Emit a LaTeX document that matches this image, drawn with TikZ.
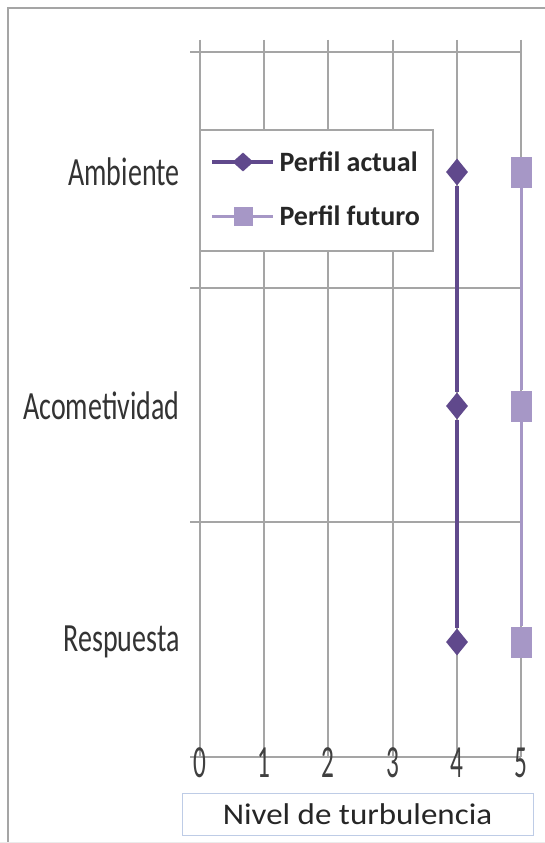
\documentclass[tikz,border=0pt]{standalone}
\usepackage{fontspec}
\setmainfont{Carlito}
\newfontfamily\narrowfont[FakeStretch=0.7]{Carlito}
\newfontfamily\digitfont[FakeStretch=0.55]{Carlito}
\newfontfamily\widefont[FakeStretch=1.1]{Carlito}
\usetikzlibrary{shapes.geometric}
\definecolor{actual}{RGB}{96,73,140}
\definecolor{futuro}{RGB}{166,151,198}
\definecolor{gridgray}{RGB}{165,165,165}
\definecolor{titleblue}{RGB}{190,204,230}
\tikzset{
  actualmark/.style={diamond, fill=actual, inner sep=0pt, minimum width=22pt, minimum height=27pt},
  futuromark/.style={rectangle, fill=futuro, inner sep=0pt, minimum width=21pt, minimum height=31pt},
  catlabel/.style={anchor=east, text=black!80, font=\narrowfont\fontsize{40}{40}\selectfont},
  ticklabel/.style={text=black!75, font=\digitfont\fontsize{46}{46}\selectfont},
  legendtext/.style={anchor=west, text=black!85, font=\bfseries\fontsize{28}{28}\selectfont}
}
\begin{document}
\begin{tikzpicture}[x=1pt,y=-1pt]

\useasboundingbox (0,0) rectangle (545,843);
\fill[white] (0,0) rectangle (545,843);

% chart frame
\draw[gridgray, line width=2pt] (8,850) -- (8,8) -- (560,8);
\draw[black!8, line width=1pt] (0,842) -- (545,842);

% grid
\foreach \x in {200,264,328,393,457,521} \draw[gridgray, line width=1.5pt] (\x,40) -- (\x,757);
\foreach \y in {52,288,522,757} \draw[gridgray, line width=1.5pt] (190,\y) -- (521,\y);

% legend
\draw[gridgray, fill=white, line width=1.5pt] (200,130) rectangle (433,251);
\coordinate (la1) at (212,162);
\coordinate (la2) at (273,162);
\coordinate (lf1) at (212,216);
\coordinate (lf2) at (273,216);
\draw[actual, line width=4pt] (la1) -- (la2);
\draw[futuro, line width=3pt] (lf1) -- (lf2);
\node[actualmark, minimum width=21pt, minimum height=19pt] (lam) at (243,162) {};
\node[futuromark, minimum width=19pt, minimum height=19pt] (lfm) at (243,216) {};
\node[legendtext] (lat) at (276,162) {Perfil actual};
\node[legendtext] (lft) at (276,216) {Perfil futuro};

% data
\foreach \n/\y in {amb/172, aco/406, res/642} {
  \node[actualmark] (a\n) at (457,\y) {};
  \node[futuromark] (f\n) at (521,\y) {};
}
\draw[actual, line width=4pt] (aamb) -- (aaco) -- (ares);
\draw[futuro, line width=3pt] (famb) -- (faco) -- (fres);

% categories
\node[catlabel] (camb) at (183,172) {Ambiente};
\node[catlabel] (caco) at (183,406) {Acometividad};
\node[catlabel] (cres) at (183,642) {Respuesta};

% axis
\foreach \v/\x in {0/200, 1/264, 2/328, 3/393, 4/457, 5/521} \node[ticklabel] (t\v) at (\x,763) {\v};

\node[draw=titleblue, line width=1pt, minimum width=351pt, minimum height=42pt, text=black!85,
  font=\widefont\fontsize{30}{30}\selectfont] (title) at (357.5,814) {Nivel de turbulencia};

\end{tikzpicture}
\end{document}
